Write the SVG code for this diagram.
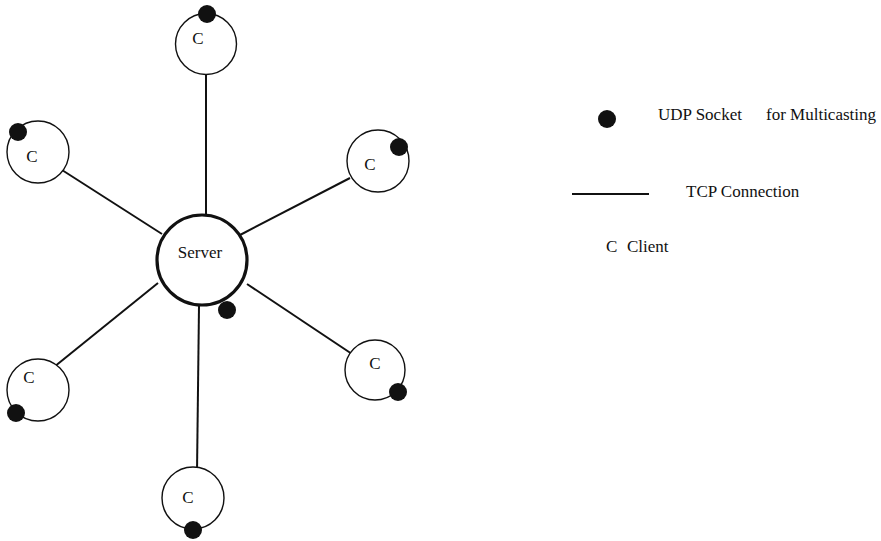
<svg xmlns="http://www.w3.org/2000/svg" width="881" height="541" viewBox="0 0 881 541">
<style>
.client{fill:#fff;stroke:#111;stroke-width:1.4}
.server{fill:#fff;stroke:#111;stroke-width:3.2}
.dot{fill:#111}
.conn{stroke:#111;stroke-width:2;fill:none}
text{font-family:"Liberation Serif","Times New Roman",serif;font-size:17px;fill:#111}
.lbl{text-anchor:middle}
</style>
<rect width="881" height="541" fill="#fff"/>
<g id="connectors">
<line class="conn" x1="206" y1="74" x2="206" y2="214"/>
<line class="conn" x1="62" y1="170" x2="162" y2="234"/>
<line class="conn" x1="240" y1="235" x2="350" y2="178"/>
<line class="conn" x1="158" y1="283" x2="54" y2="367"/>
<line class="conn" x1="247" y1="284" x2="352" y2="354"/>
<line class="conn" x1="199" y1="306" x2="197" y2="472"/>
</g>
<g id="server">
<circle class="server" cx="202" cy="260" r="45"/>
<text class="lbl" x="200" y="258">Server</text>
<circle class="dot" cx="227" cy="310" r="9"/>
</g>
<g id="client-top">
<circle class="client" cx="206" cy="44" r="30.5"/>
<circle class="dot" cx="207" cy="14" r="9"/>
<text class="lbl" x="198" y="44">C</text>
</g>
<g id="client-left-top">
<circle class="client" cx="38" cy="152" r="31"/>
<circle class="dot" cx="18" cy="132" r="9"/>
<text class="lbl" x="32" y="162">C</text>
</g>
<g id="client-right-top">
<circle class="client" cx="378" cy="161" r="31"/>
<circle class="dot" cx="399" cy="147" r="9"/>
<text class="lbl" x="370" y="170">C</text>
</g>
<g id="client-left-bottom">
<circle class="client" cx="38" cy="390" r="31"/>
<circle class="dot" cx="16" cy="413" r="9"/>
<text class="lbl" x="29" y="383">C</text>
</g>
<g id="client-right-bottom">
<circle class="client" cx="375" cy="370" r="30"/>
<circle class="dot" cx="398" cy="392" r="9"/>
<text class="lbl" x="375" y="369">C</text>
</g>
<g id="client-bottom">
<circle class="client" cx="193" cy="498" r="31"/>
<circle class="dot" cx="193" cy="530" r="9"/>
<text class="lbl" x="188" y="503">C</text>
</g>
<g id="legend">
<circle class="dot" cx="607" cy="119" r="9"/>
<text x="658" y="120">UDP Socket</text>
<text x="766" y="120">for Multicasting</text>
<line class="conn" x1="572" y1="194" x2="649" y2="194" stroke-width="1.5"/>
<text x="686" y="197">TCP Connection</text>
<text x="606" y="252">C</text>
<text x="627" y="252">Client</text>
</g>
</svg>
